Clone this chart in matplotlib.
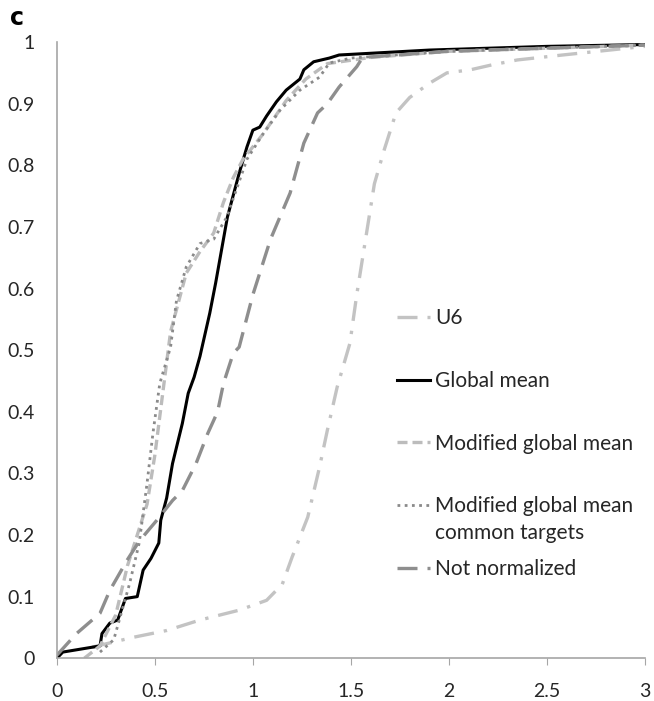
import matplotlib
matplotlib.use("Agg")
import matplotlib.pyplot as plt

plt.rcParams['font.family'] = ['Lato', 'DejaVu Sans']

# Cumulative curves (x = fold value, y = cumulative fraction)
global_x = [0.0, 0.03, 0.22, 0.23, 0.27, 0.31, 0.35, 0.41, 0.44, 0.48, 0.52, 0.53, 0.56, 0.59,
            0.64, 0.67, 0.70, 0.73, 0.78, 0.81, 0.87, 0.93, 0.97, 1.0, 1.035, 1.07, 1.12, 1.17,
            1.24, 1.26, 1.31, 1.39, 1.44, 1.9, 2.5, 3.0]
global_y = [0.0, 0.01, 0.02, 0.04, 0.057, 0.062, 0.097, 0.10, 0.143, 0.162, 0.187, 0.224, 0.26,
            0.316, 0.381, 0.43, 0.456, 0.49, 0.56, 0.609, 0.716, 0.787, 0.83, 0.857, 0.862, 0.88,
            0.903, 0.922, 0.94, 0.955, 0.968, 0.974, 0.979, 0.987, 0.993, 0.996]

mod_x = [0.14, 0.22, 0.30, 0.36, 0.41, 0.46, 0.50, 0.54, 0.58, 0.66, 0.73, 0.80, 0.85, 0.90,
         0.95, 1.05, 1.17, 1.27, 1.38, 1.6, 2.0, 2.5, 3.0]
mod_y = [0.0, 0.02, 0.07, 0.15, 0.20, 0.25, 0.33, 0.43, 0.53, 0.625, 0.66, 0.69, 0.74, 0.78,
         0.81, 0.85, 0.905, 0.94, 0.965, 0.975, 0.985, 0.99, 0.995]

dot_x = [0.22, 0.29, 0.37, 0.42, 0.46, 0.49, 0.525, 0.58, 0.61, 0.66, 0.73, 0.80, 0.867, 0.97,
         1.05, 1.14, 1.24, 1.34, 1.39, 1.5, 2.0, 2.5, 3.0]
dot_y = [0.01, 0.03, 0.12, 0.187, 0.284, 0.365, 0.446, 0.505, 0.58, 0.635, 0.673, 0.68, 0.716,
         0.81, 0.85, 0.89, 0.922, 0.943, 0.966, 0.974, 0.985, 0.99, 0.995]

raw_x = [0.0, 0.1, 0.22, 0.27, 0.36, 0.42, 0.51, 0.59, 0.64, 0.71, 0.77, 0.82, 0.85, 0.90,
         0.93, 1.0, 1.09, 1.19, 1.26, 1.33, 1.38, 1.44, 1.53, 1.56, 2.0, 2.5, 3.0]
raw_y = [0.005, 0.04, 0.073, 0.11, 0.16, 0.19, 0.224, 0.256, 0.272, 0.316, 0.365, 0.40, 0.446,
         0.495, 0.505, 0.59, 0.68, 0.755, 0.836, 0.885, 0.90, 0.927, 0.96, 0.975, 0.985, 0.99, 0.995]

u6_x = [0.18, 0.39, 0.56, 0.73, 0.93, 1.07, 1.15, 1.20, 1.28, 1.34, 1.38, 1.43, 1.495, 1.53,
        1.58, 1.62, 1.67, 1.73, 1.80, 1.90, 1.99, 2.11, 2.22, 2.35, 2.58, 2.73, 3.0]
u6_y = [0.018, 0.034, 0.045, 0.062, 0.078, 0.094, 0.12, 0.164, 0.229, 0.31, 0.37, 0.44, 0.511,
        0.59, 0.69, 0.77, 0.825, 0.885, 0.91, 0.933, 0.95, 0.955, 0.963, 0.971, 0.979, 0.984, 0.993]

x_ticks = [0, 0.5, 1, 1.5, 2, 2.5, 3]
x_labels = ['0', '0.5', '1', '1.5', '2', '2.5', '3']
y_ticks = [0, 0.1, 0.2, 0.3, 0.4, 0.5, 0.6, 0.7, 0.8, 0.9, 1]
y_labels = ['0', '0.1', '0.2', '0.3', '0.4', '0.5', '0.6', '0.7', '0.8', '0.9', '1']

fig = plt.figure(figsize=(6.54, 7.01), dpi=100)
ax = fig.add_axes([0.087, 0.061, 0.899, 0.879])

ax.plot(u6_x, u6_y, color='#c3c3c3', lw=2.4, dashes=(6, 3, 1, 3), label='U6')
ax.plot(global_x, global_y, color='black', lw=2.2, label='Global mean')
ax.plot(mod_x, mod_y, color='#bcbcbc', lw=2.4, dashes=(3, 1.5), label='Modified global mean')
ax.plot(dot_x, dot_y, color='#8a8a8a', lw=2.0, dashes=(1, 1.6), label='Modified global mean')
ax.plot(raw_x, raw_y, color='#8e8e8e', lw=2.4, dashes=(6, 3), label='Not normalized')

ax.set_xlim(0, 3)
ax.set_ylim(0, 1)
ax.set_xticks(x_ticks)
ax.set_xticklabels(x_labels)
ax.set_yticks(y_ticks)
ax.set_yticklabels(y_labels)

for s in ['top', 'right']:
    ax.spines[s].set_visible(False)
for s in ['left', 'bottom']:
    ax.spines[s].set_color('#a6a6a6')
    ax.spines[s].set_linewidth(1.2)
ax.tick_params(axis='y', length=0, pad=16, labelsize=14, labelcolor='#262626')
ax.tick_params(axis='x', length=5, color='#a6a6a6', pad=13, labelsize=14, labelcolor='#262626')

leg = ax.legend(loc='upper left', bbox_to_anchor=(0.578, 0.568), frameon=False, fontsize=15,
                borderpad=0, borderaxespad=0, handlelength=1.6, handletextpad=0.25,
                labelspacing=2.05, labelcolor='#262626')

# second line of the 4th legend entry hangs below it, as in the original
# (zorder above the legend so the legend is laid out before this is placed)
ax.annotate('common targets', xy=(0, 0), xycoords=leg.get_texts()[3],
            xytext=(0, -27), textcoords='offset pixels', ha='left', va='bottom',
            fontsize=15, color='#262626', zorder=10)

fig.text(0.016, 0.975, 'c', fontsize=17, fontweight='bold', va='center', family='DejaVu Sans')

fig.savefig('out.png', dpi=100)
